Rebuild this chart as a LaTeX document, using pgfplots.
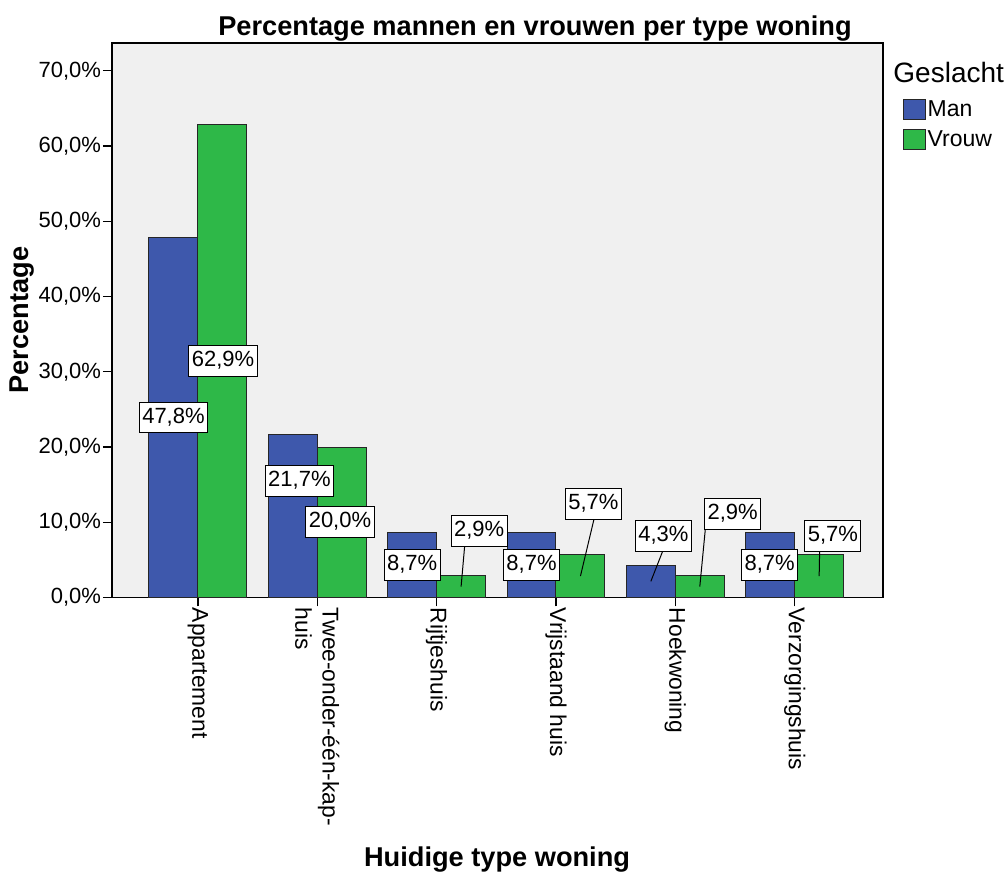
\documentclass[border=0pt]{standalone}
\usepackage{fontspec}
\setmainfont{Liberation Sans}
\usepackage{pgfplots}
\pgfplotsset{compat=1.18}
\definecolor{bgray}{RGB}{240,240,240}
\definecolor{manblue}{RGB}{62,88,172}
\definecolor{vrgreen}{RGB}{46,184,72}
\newcommand{\fs}[1]{\fontsize{#1}{1.2\dimexpr#1\relax}\selectfont}
\begin{document}
\begin{tikzpicture}
\path[use as bounding box] (-56pt,-139.25pt) rectangle (447pt,298.75pt);
\begin{axis}[
  at={(0,0)}, anchor=south west,
  width=385.5pt, height=277.25pt, scale only axis,
  xmin=-0.72, xmax=5.74, ymin=0, ymax=73.7,
  axis background/.style={fill=bgray},
  axis line style={black, line width=0.7pt},
  ybar=0pt, bar width=0.41,
  xtick={0,1,2,3,4,5},
  xticklabels={Appartement,{Twee-onder-één-kap-\\huis},Rijtjeshuis,Vrijstaand huis,Hoekwoning,Verzorgingshuis},
  ytick={0,10,20,30,40,50,60,70},
  yticklabels={{0,0\%},{10,0\%},{20,0\%},{30,0\%},{40,0\%},{50,0\%},{60,0\%},{70,0\%}},
  tick align=outside, tick pos=left,
  major tick length=4.5pt,
  tick style={black, line width=0.6pt},
  yticklabel style={font=\fs{11pt}, inner sep=0.8pt},
  xticklabel style={font=\fs{11.4pt}, rotate=-90, anchor=west, align=left, inner sep=0.5pt},
  every axis title shift=0pt,
  title={Percentage mannen en vrouwen per type woning},
  title style={font=\bfseries\fs{13.6pt}, at={(axis description cs:0.5486,1.0126)}, anchor=base},
  xlabel={Huidige type woning},
  xlabel style={font=\bfseries\fs{13.6pt}, at={(axis description cs:0.4994,-0.486)}, anchor=base},
  ylabel={Percentage},
  ylabel style={font=\bfseries\fs{13.6pt}, at={(axis description cs:-0.1161,0.5005)}, anchor=center, rotate=0},
  legend style={at={(axis description cs:1.026,0.8997)}, anchor=north west, draw=none, fill=none,
    font=\fs{11.5pt}, inner sep=0pt, row sep=4.4pt, nodes={inner sep=0.6pt}},
  legend cell align=left,
  legend image code/.code={\draw[#1, line width=0.5pt] (0pt,-5pt) rectangle (11pt,5pt);},
  clip=false,
]
\addplot[fill=manblue, draw=black!85, line width=0.5pt] coordinates {(0,47.8) (1,21.7) (2,8.7) (3,8.7) (4,4.3) (5,8.7)};
\addplot[fill=vrgreen, draw=black!85, line width=0.5pt] coordinates {(0,62.9) (1,20.0) (2,2.9) (3,5.7) (4,2.9) (5,5.7)};
\legend{Man,Vrouw}
% leader lines
\draw[black, line width=0.5pt] (axis cs:2.205,1.45) -- (axis cs:2.2345,6.79);
\draw[black, line width=0.5pt] (axis cs:3.205,2.85) -- (axis cs:3.318,10.38);
\draw[black, line width=0.5pt] (axis cs:3.795,2.15) -- (axis cs:3.894,6.16);
\draw[black, line width=0.5pt] (axis cs:4.205,1.45) -- (axis cs:4.251,9.05);
\draw[black, line width=0.5pt] (axis cs:5.205,2.85) -- (axis cs:5.209,6.16);
% value labels
\tikzset{vl/.style={fill=white, draw=black, line width=0.5pt, font=\fs{11pt}, inner xsep=1.5pt, inner ysep=3.3pt, text height=0.72em, text depth=0.15em, anchor=center}}
\node[vl] at (axis cs:-0.205,23.9) {47,8\%};
\node[vl] at (axis cs:0.21,31.45) {62,9\%};
\node[vl] at (axis cs:0.85,15.5) {21,7\%};
\node[vl] at (axis cs:1.19,10.05) {20,0\%};
\node[vl] at (axis cs:1.795,4.35) {8,7\%};
\node[vl] at (axis cs:2.356,8.85) {2,9\%};
\node[vl] at (axis cs:2.795,4.35) {8,7\%};
\node[vl] at (axis cs:3.314,12.4) {5,7\%};
\node[vl] at (axis cs:3.90,8.16) {4,3\%};
\node[vl] at (axis cs:4.48,11.09) {2,9\%};
\node[vl] at (axis cs:4.79,4.35) {8,7\%};
\node[vl] at (axis cs:5.32,8.16) {5,7\%};
\node[font=\fs{14pt}, anchor=base west, inner sep=0pt] at (axis description cs:1.013,0.928) {Geslacht};
\end{axis}
\end{tikzpicture}
\end{document}
